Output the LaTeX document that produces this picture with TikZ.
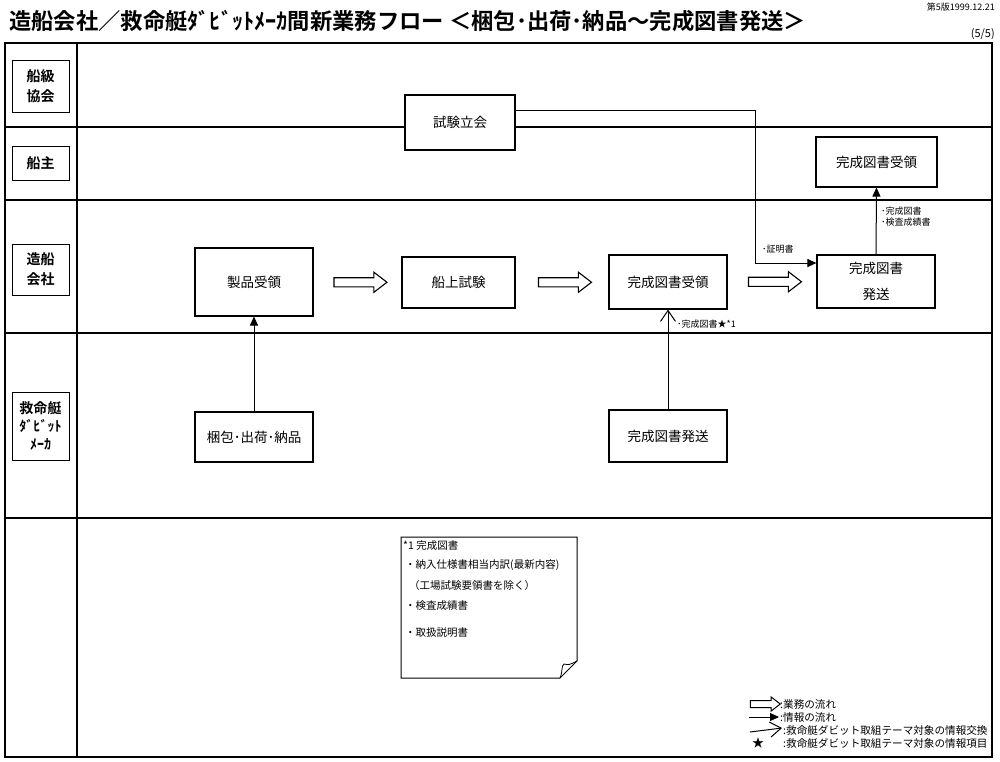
\documentclass[tikz,border=0pt]{standalone}
\usepackage{fontspec}
\setmainfont{Noto Sans CJK JP}[BoldFont={Noto Sans CJK JP Bold}]
\usetikzlibrary{arrows.meta,shapes.arrows,calc}

\begin{document}
\begin{tikzpicture}[
  x=1pt, y=-1pt,
  font=\fontsize{13.5}{16}\selectfont,
  frame/.style={line width=1.6pt},
  lane/.style={line width=1.1pt},
  lanebox/.style={draw, line width=1pt, minimum width=57pt, align=center, inner sep=0pt, font=\fontsize{14}{20}\selectfont\bfseries},
  task/.style={draw, fill=white, line width=1.1pt, align=center, inner sep=0pt},
  flow/.style={single arrow, draw, fill=white, line width=1.1pt, inner sep=0pt, inner ysep=4pt, minimum height=53pt, minimum width=19pt, single arrow head extend=5.5pt, single arrow tip angle=75},
  flowsmall/.style={flow, inner ysep=3pt, minimum height=30pt, minimum width=13pt, single arrow head extend=3.5pt, line width=1pt},
  info/.style={-{Triangle[length=9pt,width=8pt]}, line width=1pt},
  xchg/.style={-{Straight Barb[length=11pt,width=15pt]}, line width=1pt},
  lbl/.style={font=\fontsize{9}{11}\selectfont, align=left, inner sep=0pt},
  notetxt/.style={font=\fontsize{10.5}{12}\selectfont, anchor=west, inner sep=0pt},
  legtxt/.style={font=\fontsize{10.6}{12}\selectfont, anchor=west, inner sep=0pt}
]
\useasboundingbox (0,0) rectangle (1000,761);

% Frame and lane boundaries (y grows downwards)
\def\xL{5}
\def\xR{992}
\def\xCol{77}
\def\yTop{43}
\def\yBot{757}
\def\yKS{127}
\def\ySZ{200}
\def\yZM{333}
\def\yMB{518}

% Header
\node[anchor=west, font=\fontsize{22.3}{24}\selectfont\bfseries, inner sep=0pt] (title) at (9,21)
  {造船会社／救命艇ﾀﾞﾋﾞｯﾄﾒｰｶ間新業務フロー ＜梱包･出荷･納品～完成図書発送＞};
\node[anchor=east, font=\fontsize{9}{10}\selectfont, inner sep=0pt] (ver) at (995,7) {第5版1999.12.21};
\node[anchor=east, font=\fontsize{11}{12}\selectfont, inner sep=0pt] (page) at (995,34) {(5/5)};

% Swimlanes
\draw[frame] (\xL,\yTop) rectangle (\xR,\yBot);
\draw[frame] (\xCol,\yTop) -- (\xCol,\yBot);
\foreach \y in {\yKS,\ySZ,\yZM,\yMB} {
  \draw[lane] (\xL,\y) -- (\xR,\y);
}

% Lane headers
\node[lanebox, minimum height=52pt] (kyokai) at (40.5,86)  {船級\\協会};
\node[lanebox, minimum height=34pt] (senshu) at (40.5,163) {船主};
\node[lanebox, minimum height=51pt] (zosen)  at (40.5,269.5) {造船\\会社};
\node[lanebox, minimum height=68pt, font=\fontsize{14}{18}\selectfont\bfseries] (maker) at (40.5,426) {救命艇\\ﾀﾞﾋﾞｯﾄ\\ﾒｰｶ};

% Tasks
\node[task, minimum width=110pt, minimum height=55pt] (shiken) at (460,122.5) {試験立会};
\node[task, minimum width=121pt, minimum height=50pt] (juryoO) at (876.5,162) {完成図書受領};
\node[task, minimum width=118pt, minimum height=68pt] (seihin) at (254,282) {製品受領};
\node[task, minimum width=113pt, minimum height=51pt] (senjo)  at (458.5,282.5) {船上試験};
\node[task, minimum width=118pt, minimum height=54pt] (juryoS) at (668,282) {完成図書受領};
\node[task, minimum width=118pt, minimum height=53pt] (hassoS) at (876,281.5) {完成図書\\[10pt]発送};
\node[task, minimum width=118pt, minimum height=50pt] (konpo)  at (254,437) {梱包･出荷･納品};
\node[task, minimum width=118pt, minimum height=52pt] (hassoM) at (668,436) {完成図書発送};

% Work flow
\node[flow] (fa1) at ($(seihin.east)!0.5!(senjo.west)$) {};
\node[flow] (fa2) at ($(senjo.east)!0.5!(juryoS.west)$) {};
\node[flow] (fa3) at ($(juryoS.east)!0.5!(hassoS.west)$) {};

% Information flow
\coordinate (cTurn) at (755,263);
\draw[info] ([yshift=12.5pt]shiken.east) -| (cTurn) -- (hassoS.west |- cTurn);
\node[lbl, anchor=west] (lShomei) at (762,249) {･証明書};
\draw[info] (hassoS.north) -- (juryoO.south);
\node[lbl, anchor=north west] (lKansei) at (881,207) {･完成図書\\･検査成績書};
\draw[info] (konpo.north) -- (seihin.south);
\draw[xchg] (hassoM.north) -- (juryoS.south);
\node[lbl, anchor=west] (lStar) at (677,324) {･完成図書★*1};

% Note *1
\draw[line width=1pt, fill=white] (401,537) -- (577,537) -- (577,661) -- (560,678) -- (401,678) -- cycle;
\draw[line width=0.8pt] (560,678) .. controls (563,671) and (561,666) .. (564,664) .. controls (569,665) .. (577,661);
\node[notetxt] (n1) at (403,546) {*1 完成図書};
\node[notetxt] (n2) at (405,565) {・納入仕様書相当内訳(最新内容)};
\node[notetxt] (n3) at (409,585) {（工場試験要領書を除く）};
\node[notetxt] (n4) at (405,606) {・検査成績書};
\node[notetxt] (n5) at (405,633) {・取扱説明書};

% Legend
\node[flowsmall] (legFlow) at (763,704) {};
\node[legtxt] (t1) at (780,704) {:業務の流れ};
\coordinate (legA) at (749,717);
\coordinate (legB) at (779,717);
\draw[info] (legA) -- (legB);
\node[legtxt] (t2) at (780,717) {:情報の流れ};
\coordinate (legC) at (750,732);
\coordinate (legD) at (782,728);
\draw[xchg] (legC) -- (legD);
\node[legtxt] (t3) at (783,730) {:救命艇ダビット取組テーマ対象の情報交換};
\node[font=\fontsize{12}{12}\selectfont, inner sep=0pt] (legStar) at (758,743) {★};
\node[legtxt] (t4) at (783,743) {:救命艇ダビット取組テーマ対象の情報項目};

\end{tikzpicture}
\end{document}
